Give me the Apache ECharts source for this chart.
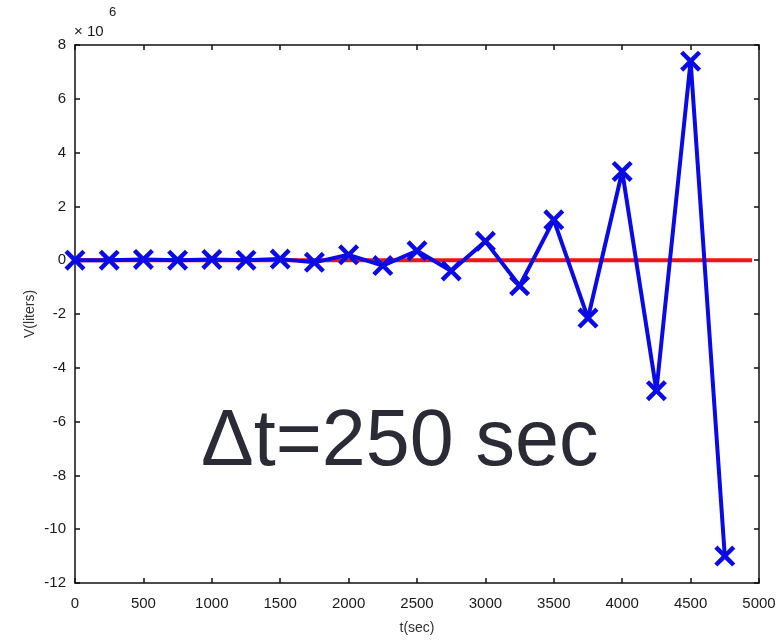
<!DOCTYPE html>
<html>
<head>
<meta charset="utf-8">
<script src="https://cdn.jsdelivr.net/npm/echarts@6/dist/echarts.min.js"></script>
<style>html,body{margin:0;padding:0;background:#fff;}#c{width:784px;height:641px;}</style>
</head>
<body>
<div id="c"></div>
<script>
// Time steps (sec) for the explicit solution, dt = 250 s
const timeSec = [0, 250, 500, 750, 1000, 1250, 1500, 1750, 2000, 2250, 2500, 2750, 3000, 3250, 3500, 3750, 4000, 4250, 4500, 4750];
// Volume (×10^6 liters)
const volumeMillions = [0, 0, 0.03, 0, 0.03, 0, 0.04, -0.08, 0.2, -0.2, 0.35, -0.4, 0.7, -0.95, 1.5, -2.15, 3.3, -4.85, 7.4, -11.0];
// Reference (exact) solution, effectively zero on this scale
const exactT = [0, 4950];
const exactV = [0, 0];
// Axis ticks
const xTicks = [0, 500, 1000, 1500, 2000, 2500, 3000, 3500, 4000, 4500, 5000];
const yTicks = [-12, -10, -8, -6, -4, -2, 0, 2, 4, 6, 8];

const blueData = timeSec.map((t, i) => [t, volumeMillions[i]]);
const redData = exactT.map((t, i) => [t, exactV[i]]);

const font = 'Liberation Sans, Arial, sans-serif';
const axisCommon = {
  axisLine: { show: true, onZero: false, lineStyle: { color: '#111', width: 1.5 } },
  axisTick: { show: true, inside: true, length: 5, lineStyle: { color: '#111', width: 1.5 } },
  splitLine: { show: false }
};
const xStep = xTicks[1] - xTicks[0];
const yStep = yTicks[1] - yTicks[0];
const plain = v => String(v);

const chart = echarts.init(document.getElementById('c'), null, { renderer: 'canvas' });
chart.setOption({
  animation: false,
  backgroundColor: '#ffffff',
  grid: { left: 75, right: 25, top: 45, bottom: 58, containLabel: false },
  xAxis: [
    Object.assign({
      type: 'value', position: 'bottom',
      min: xTicks[0], max: xTicks[xTicks.length - 1], interval: xStep,
      name: 't(sec)', nameLocation: 'middle', nameGap: 38, nameMoveOverlap: false,
      nameTextStyle: { fontFamily: font, fontSize: 14, color: '#333' },
      axisLabel: { fontFamily: font, fontSize: 15, color: '#1a1a1a', margin: 13, formatter: plain }
    }, axisCommon),
    Object.assign({
      type: 'value', position: 'top',
      min: xTicks[0], max: xTicks[xTicks.length - 1], interval: xStep,
      axisLabel: { show: false }
    }, axisCommon)
  ],
  yAxis: [
    Object.assign({
      type: 'value', position: 'left',
      min: yTicks[0], max: yTicks[yTicks.length - 1], interval: yStep,
      name: 'V(liters)', nameLocation: 'middle', nameGap: 38, nameMoveOverlap: false,
      nameTextStyle: { fontFamily: font, fontSize: 14, color: '#333' },
      axisLabel: { fontFamily: font, fontSize: 15, color: '#1a1a1a', margin: 9, formatter: plain }
    }, axisCommon),
    Object.assign({
      type: 'value', position: 'right',
      min: yTicks[0], max: yTicks[yTicks.length - 1], interval: yStep,
      axisLabel: { show: false }
    }, axisCommon)
  ],
  series: [
    {
      type: 'line', data: redData, xAxisIndex: 0, yAxisIndex: 0,
      showSymbol: false, symbol: 'none', z: 2,
      lineStyle: { color: '#f01414', width: 4 }
    },
    {
      type: 'line', data: blueData, xAxisIndex: 0, yAxisIndex: 0,
      symbol: 'path://M0,3L3,0L10,7L17,0L20,3L13,10L20,17L17,20L10,13L3,20L0,17L7,10Z',
      symbolSize: 21, showAllSymbol: true, z: 3,
      itemStyle: { color: '#0a0ae6', borderWidth: 0 },
      lineStyle: { color: '#0a0ae6', width: 4 }
    }
  ],
  graphic: [
    { type: 'text', left: 74, top: 24, style: { text: '× 10', font: '15px ' + font, fill: '#1a1a1a' } },
    { type: 'text', left: 109, top: 6, style: { text: '6', font: '13px ' + font, fill: '#1a1a1a' } },
    { type: 'text', left: 201, top: 404, style: { text: 'Δt=250 sec', font: '79px ' + font, fill: '#2b2b36' } }
  ]
});
</script>
</body>
</html>
